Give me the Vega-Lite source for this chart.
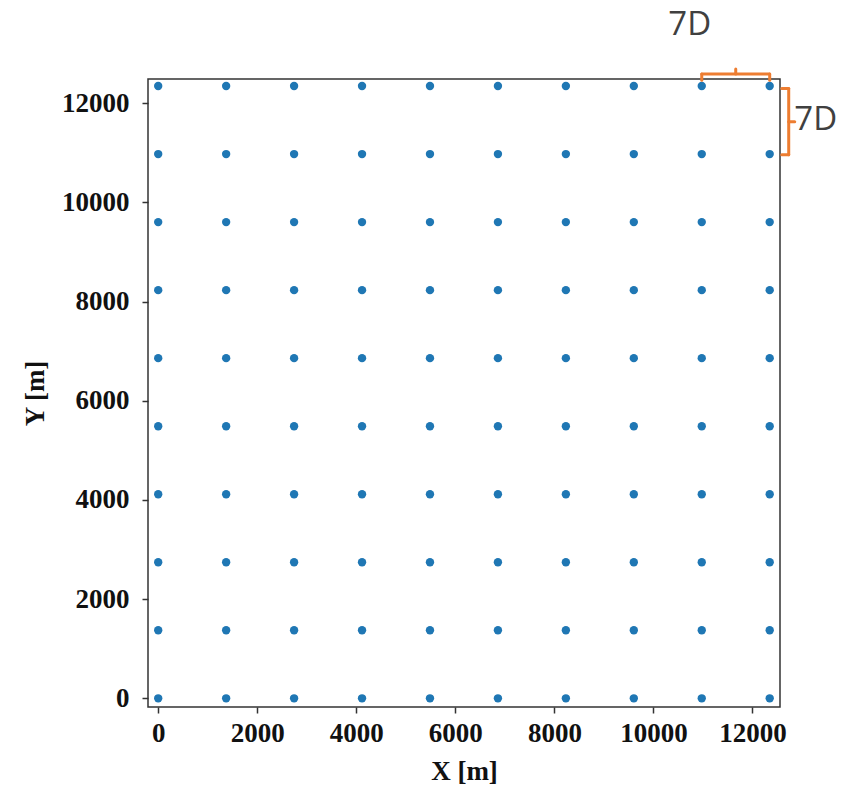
{
  "$schema": "https://vega.github.io/schema/vega-lite/v6.json",
  "width": 632,
  "height": 628,
  "autosize": {"type": "none"},
  "padding": {"left": 148, "top": 79, "right": 68, "bottom": 78},
  "background": "white",
  "config": {
    "view": {"stroke": "#333333", "strokeWidth": 1.5},
    "axis": {
      "grid": false,
      "domain": false,
      "labelFont": "Liberation Serif",
      "labelFontWeight": "bold",
      "labelFontSize": 27,
      "labelColor": "#111111",
      "tickColor": "#333333",
      "tickSize": 6,
      "tickWidth": 1.5,
      "titleFont": "Liberation Serif",
      "titleFontWeight": "bold",
      "titleFontSize": 27,
      "titleColor": "#111111"
    }
  },
  "datasets": {
    "turbines": [
      {"x": 0, "y": 0}, {"x": 1372, "y": 0}, {"x": 2744, "y": 0}, {"x": 4116, "y": 0}, {"x": 5488, "y": 0}, {"x": 6860, "y": 0}, {"x": 8232, "y": 0}, {"x": 9604, "y": 0}, {"x": 10976, "y": 0}, {"x": 12348, "y": 0},
      {"x": 0, "y": 1372}, {"x": 1372, "y": 1372}, {"x": 2744, "y": 1372}, {"x": 4116, "y": 1372}, {"x": 5488, "y": 1372}, {"x": 6860, "y": 1372}, {"x": 8232, "y": 1372}, {"x": 9604, "y": 1372}, {"x": 10976, "y": 1372}, {"x": 12348, "y": 1372},
      {"x": 0, "y": 2744}, {"x": 1372, "y": 2744}, {"x": 2744, "y": 2744}, {"x": 4116, "y": 2744}, {"x": 5488, "y": 2744}, {"x": 6860, "y": 2744}, {"x": 8232, "y": 2744}, {"x": 9604, "y": 2744}, {"x": 10976, "y": 2744}, {"x": 12348, "y": 2744},
      {"x": 0, "y": 4116}, {"x": 1372, "y": 4116}, {"x": 2744, "y": 4116}, {"x": 4116, "y": 4116}, {"x": 5488, "y": 4116}, {"x": 6860, "y": 4116}, {"x": 8232, "y": 4116}, {"x": 9604, "y": 4116}, {"x": 10976, "y": 4116}, {"x": 12348, "y": 4116},
      {"x": 0, "y": 5488}, {"x": 1372, "y": 5488}, {"x": 2744, "y": 5488}, {"x": 4116, "y": 5488}, {"x": 5488, "y": 5488}, {"x": 6860, "y": 5488}, {"x": 8232, "y": 5488}, {"x": 9604, "y": 5488}, {"x": 10976, "y": 5488}, {"x": 12348, "y": 5488},
      {"x": 0, "y": 6860}, {"x": 1372, "y": 6860}, {"x": 2744, "y": 6860}, {"x": 4116, "y": 6860}, {"x": 5488, "y": 6860}, {"x": 6860, "y": 6860}, {"x": 8232, "y": 6860}, {"x": 9604, "y": 6860}, {"x": 10976, "y": 6860}, {"x": 12348, "y": 6860},
      {"x": 0, "y": 8232}, {"x": 1372, "y": 8232}, {"x": 2744, "y": 8232}, {"x": 4116, "y": 8232}, {"x": 5488, "y": 8232}, {"x": 6860, "y": 8232}, {"x": 8232, "y": 8232}, {"x": 9604, "y": 8232}, {"x": 10976, "y": 8232}, {"x": 12348, "y": 8232},
      {"x": 0, "y": 9604}, {"x": 1372, "y": 9604}, {"x": 2744, "y": 9604}, {"x": 4116, "y": 9604}, {"x": 5488, "y": 9604}, {"x": 6860, "y": 9604}, {"x": 8232, "y": 9604}, {"x": 9604, "y": 9604}, {"x": 10976, "y": 9604}, {"x": 12348, "y": 9604},
      {"x": 0, "y": 10976}, {"x": 1372, "y": 10976}, {"x": 2744, "y": 10976}, {"x": 4116, "y": 10976}, {"x": 5488, "y": 10976}, {"x": 6860, "y": 10976}, {"x": 8232, "y": 10976}, {"x": 9604, "y": 10976}, {"x": 10976, "y": 10976}, {"x": 12348, "y": 10976},
      {"x": 0, "y": 12348}, {"x": 1372, "y": 12348}, {"x": 2744, "y": 12348}, {"x": 4116, "y": 12348}, {"x": 5488, "y": 12348}, {"x": 6860, "y": 12348}, {"x": 8232, "y": 12348}, {"x": 9604, "y": 12348}, {"x": 10976, "y": 12348}, {"x": 12348, "y": 12348}
    ],
    "brackets": [
      {"x": 10976, "x2": 12348, "y": 12590, "y2": 12590},
      {"x": 10976, "x2": 10976, "y": 12590, "y2": 12465},
      {"x": 12348, "x2": 12348, "y": 12590, "y2": 12465},
      {"x": 11662, "x2": 11662, "y": 12590, "y2": 12690},
      {"x": 12732, "x2": 12732, "y": 10960, "y2": 12300},
      {"x": 12732, "x2": 12591, "y": 12300, "y2": 12300},
      {"x": 12732, "x2": 12591, "y": 10960, "y2": 10960},
      {"x": 12732, "x2": 12853, "y": 11630, "y2": 11630}
    ],
    "labels": [
      {"label": "7D", "x": 10733, "y": 13574},
      {"label": "7D", "x": 13277, "y": 11658}
    ]
  },
  "layer": [
    {
      "data": {"name": "turbines"},
      "mark": {"type": "circle", "size": 70, "opacity": 1, "color": "#1f77b4"},
      "encoding": {
        "x": {
          "field": "x", "type": "quantitative",
          "scale": {"domain": [-206, 12556], "nice": false, "zero": false},
          "axis": {"values": [0, 2000, 4000, 6000, 8000, 10000, 12000], "format": "d", "title": "X [m]", "labelPadding": 7, "titlePadding": 12}
        },
        "y": {
          "field": "y", "type": "quantitative",
          "scale": {"domain": [-175, 12490], "nice": false, "zero": false},
          "axis": {"values": [0, 2000, 4000, 6000, 8000, 10000, 12000], "format": "d", "title": "Y [m]", "labelPadding": 13, "titlePadding": 12}
        }
      }
    },
    {
      "data": {"name": "brackets"},
      "mark": {"type": "rule", "color": "#ED7D31", "strokeWidth": 3, "strokeCap": "round", "clip": false},
      "encoding": {
        "x": {"field": "x", "type": "quantitative"},
        "x2": {"field": "x2"},
        "y": {"field": "y", "type": "quantitative"},
        "y2": {"field": "y2"}
      }
    },
    {
      "data": {"name": "labels"},
      "mark": {"type": "text", "font": "Open Sans", "fontSize": 33, "color": "#404040", "align": "center", "baseline": "middle", "clip": false},
      "encoding": {
        "x": {"field": "x", "type": "quantitative"},
        "y": {"field": "y", "type": "quantitative"},
        "text": {"field": "label"}
      }
    }
  ]
}
